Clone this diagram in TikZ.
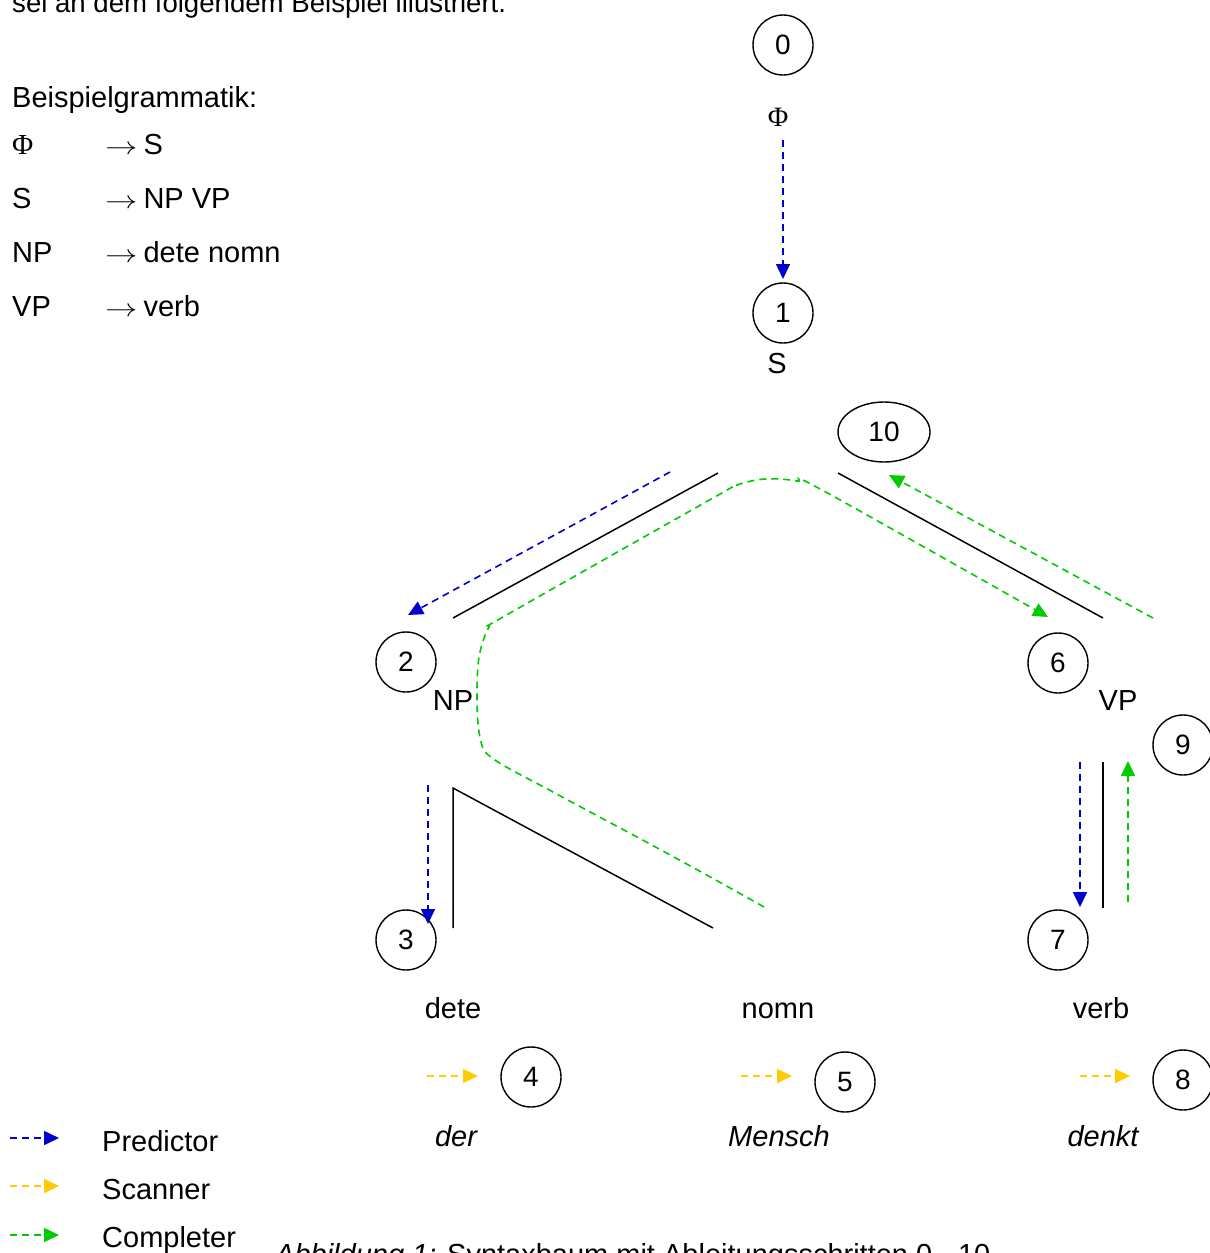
\documentclass[tikz,border=0pt]{standalone}
\usepackage{fontspec}
\usepackage{graphicx}
\setmainfont{Liberation Sans}
\newfontfamily\serifx{Liberation Serif}
\usetikzlibrary{arrows.meta,shapes.geometric}
\definecolor{predblue}{RGB}{0,0,204}
\definecolor{scangold}{RGB}{255,204,0}
\definecolor{complgreen}{RGB}{0,204,0}
\newcommand{\grarrow}{\scalebox{1.3}[1]{$\rightarrow$}\hspace{6pt}}
\begin{document}
\begin{tikzpicture}[x=1pt,y=-1pt,
  every node/.style={font=\fontsize{29}{34}\selectfont, inner sep=0pt},
  num/.style={draw, circle, minimum size=60pt, line width=1.4pt, font=\fontsize{28}{32}\selectfont},
  lbl/.style={anchor=base},
  lblw/.style={anchor=base west},
  itl/.style={anchor=base, font=\fontsize{29}{34}\selectfont\itshape},
  tree/.style={line width=1.5pt, black},
  arr/.style={dash pattern=on 7pt off 5pt, line width=1.6pt, -{Triangle[length=15pt,width=14pt]}},
  pred/.style={arr, color=predblue},
  scan/.style={arr, color=scangold},
  compl/.style={arr, color=complgreen},
]
\clip (0,0) rectangle (1210,1253);
\useasboundingbox (0,0) rectangle (1210,1253);
\fill[white] (0,0) rectangle (1210,1253);

% top and bottom text (cut)
\node[lblw, font=\fontsize{27.6}{32}\selectfont] (toptext) at (12,12) {sei an dem folgendem Beispiel illustriert.};
\node[lblw] (caption) at (275,1264) {\itshape Abbildung 1:\upshape{} Syntaxbaum mit Ableitungsschritten 0 - 10};

% grammar
\node[lblw] (gtitle) at (12,107) {Beispielgrammatik:};
\node[lblw, font=\serifx\fontsize{29}{34}\selectfont] (g1l) at (12,154) {Φ};
\node[lblw] (g1r) at (105,154) {\grarrow S};
\node[lblw] (g2l) at (12,208) {S};
\node[lblw] (g2r) at (105,208) {\grarrow NP VP};
\node[lblw] (g3l) at (12,262) {NP};
\node[lblw] (g3r) at (105,262) {\grarrow dete nomn};
\node[lblw] (g4l) at (12,316) {VP};
\node[lblw] (g4r) at (105,316) {\grarrow verb};

% nodes
\node[num] (n0) at (783,45) {0};
\node[lbl, font=\serifx\fontsize{28}{32}\selectfont] (phi) at (778,126) {Φ};
\node[num] (n1) at (783,313) {1};
\node[lbl] (S) at (777,373) {S};
\node[draw, ellipse, minimum width=92pt, minimum height=60pt, line width=1.4pt, font=\fontsize{28}{32}\selectfont] (n10) at (884,432) {10};
\node[num] (n2) at (406,662) {2};
\node[lbl] (NP) at (453,710) {NP};
\node[num] (n6) at (1058,663) {6};
\node[lbl] (VP) at (1118,710) {VP};
\node[num] (n9) at (1183,745) {9};
\node[num] (n3) at (406,940) {3};
\node[num] (n7) at (1058,940) {7};
\node[lbl] (dete) at (453,1018) {dete};
\node[lbl] (nomn) at (778,1018) {nomn};
\node[lbl] (verb) at (1101,1018) {verb};
\node[num] (n4) at (531,1077) {4};
\node[num] (n5) at (845,1082) {5};
\node[num] (n8) at (1183,1080) {8};
\node[itl] (der) at (456,1146) {der};
\node[itl] (mensch) at (779,1146) {Mensch};
\node[itl] (denkt) at (1103,1146) {denkt};

% tree lines
\coordinate (sL) at (718,473);
\coordinate (npT) at (453,618);
\coordinate (sR) at (838,473);
\coordinate (vpT) at (1103,618);
\coordinate (deteT) at (453,928);
\coordinate (npB) at (453,788);
\coordinate (nomnT) at (713,928);
\coordinate (vpB) at (1103,762);
\coordinate (verbT) at (1103,908);
\draw[tree] (sL) -- (npT);
\draw[tree] (sR) -- (vpT);
\draw[tree] (deteT) -- (npB) -- (nomnT);
\draw[tree] (vpB) -- (verbT);

% predictor arrows
\coordinate (p0s) at (783,140);
\coordinate (p0e) at (783,279);
\draw[pred] (p0s) -- (p0e);
\coordinate (p1s) at (670,472);
\coordinate (p1e) at (408,615);
\draw[pred] (p1s) -- (p1e);
\coordinate (p2s) at (428,785);
\coordinate (p2e) at (428,924);
\draw[pred] (p2s) -- (p2e);
\coordinate (p3s) at (1080,762);
\coordinate (p3e) at (1080,907);
\draw[pred] (p3s) -- (p3e);

% completer arrows
\draw[compl] plot[smooth, tension=0.55] coordinates {(764,907) (723,884) (650,844) (553,792) (492,758) (480,737) (477,700) (479,657) (489,627) (503,617) (713,498) (737,485) (765,479) (797,481) (822,490) (1048,617)};
\coordinate (c2s) at (1153,618);
\coordinate (c2e) at (889,475);
\draw[compl] (c2s) -- (c2e);
\coordinate (c3s) at (1128,902);
\coordinate (c3e) at (1128,761);
\draw[compl] (c3s) -- (c3e);

% scanner arrows
\coordinate (s1s) at (427,1076);
\coordinate (s1e) at (478,1076);
\draw[scan] (s1s) -- (s1e);
\coordinate (s2s) at (741,1076);
\coordinate (s2e) at (792,1076);
\draw[scan] (s2s) -- (s2e);
\coordinate (s3s) at (1080,1076);
\coordinate (s3e) at (1130,1076);
\draw[scan] (s3s) -- (s3e);

% legend
\coordinate (lps) at (10,1138);
\coordinate (lpe) at (59,1138);
\draw[pred] (lps) -- (lpe);
\node[lblw] (lp) at (102,1151) {Predictor};
\coordinate (lss) at (10,1186);
\coordinate (lse) at (59,1186);
\draw[scan] (lss) -- (lse);
\node[lblw] (ls) at (102,1199) {Scanner};
\coordinate (lcs) at (10,1235);
\coordinate (lce) at (59,1235);
\draw[compl] (lcs) -- (lce);
\node[lblw] (lc) at (102,1247) {Completer};
\end{tikzpicture}
\end{document}
